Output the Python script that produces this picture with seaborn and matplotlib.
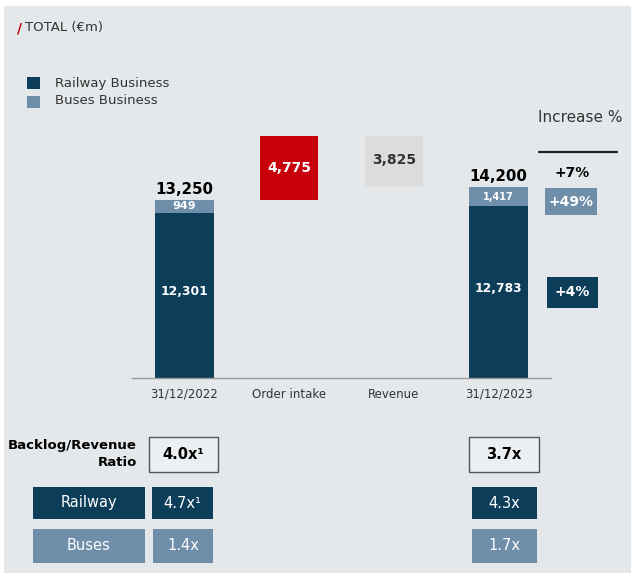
#!/usr/bin/env python3

import numpy as np
import pandas as pd
import matplotlib
matplotlib.use("Agg")
import matplotlib.pyplot as plt
from matplotlib.patches import Rectangle
import seaborn as sns

# chart data
categories = ["31/12/2022", "Order intake", "Revenue", "31/12/2023"]
railway = [12301, 0, 0, 12783]
buses = [949, 0, 0, 1417]
order_intake = 4775
revenue = 3825
increase_labels = ["+7%", "+49%", "+4%"]
ratio_total = ["4.0x\u00b9", "3.7x"]
ratio_railway = ["4.7x\u00b9", "4.3x"]
ratio_buses = ["1.4x", "1.7x"]

# colours
DARK = "#0c3e5a"
LIGHT = "#6f8ea9"
RED = "#c8000b"
GREY_BOX = "#dcdcdc"
PANEL = "#e4e8eb"
TXT = "#333333"

W, H = 635, 577
sns.set_theme(style="white")
plt.rcParams["font.family"] = ["DejaVu Sans"]

fig = plt.figure(figsize=(W / 100, H / 100), dpi=100, facecolor="white")

# background axes in pixel coordinates for panel, table and notes
bg = fig.add_axes([0, 0, 1, 1], zorder=0)
bg.set_xlim(0, W)
bg.set_ylim(H, 0)
bg.axis("off")
bg.add_patch(Rectangle((4, 6), 627, 567, facecolor=PANEL, edgecolor="none"))


def px_axes(left, right, top, bottom):
    return [left / W, 1 - bottom / H, (right - left) / W, (bottom - top) / H]


# main waterfall axes: baseline at y=378px, 0..22000
ymax = 22000
k = 178 / 13250
ax = fig.add_axes(px_axes(132, 551, 378 - ymax * k, 378), zorder=1)
ax.set_facecolor("none")

totals = [r + b for r, b in zip(railway, buses)]
start_total = totals[0]
move_heights = [0, order_intake, revenue, 0]
move_bottoms = [0, start_total, start_total + order_intake - revenue, 0]
move_colors = ["none", RED, GREY_BOX, "none"]

sns.barplot(x=categories, y=railway, color=DARK, width=0.56, errorbar=None,
            linewidth=0, saturation=1, ax=ax)
sns.barplot(x=categories, y=buses, bottom=railway, color=LIGHT, width=0.56,
            errorbar=None, linewidth=0, saturation=1, ax=ax)
sns.barplot(x=categories, y=move_heights, bottom=move_bottoms, color=RED,
            width=0.56, errorbar=None, linewidth=0, saturation=1, ax=ax)
for bar, c in zip(ax.containers[-1], move_colors):
    bar.set_facecolor(c)

ax.set_xlim(-0.5, 3.5)
ax.set_ylim(0, ymax)
ax.set_yticks([])
ax.set_ylabel("")
for s in ["top", "right", "left"]:
    ax.spines[s].set_visible(False)
ax.spines["bottom"].set_color("#9a9a9a")
ax.spines["bottom"].set_linewidth(1)
ax.tick_params(axis="x", length=0, pad=7, labelsize=8.5, labelcolor=TXT)

# value labels
for i in [0, 3]:
    ax.text(i, totals[i] + 250, f"{totals[i]:,}", ha="center", va="bottom",
            fontsize=10.8, fontweight="bold", color="black")
    ax.text(i, railway[i] + buses[i] / 2, f"{buses[i]:,}", ha="center",
            va="center", fontsize=8 if i == 0 else 7, fontweight="bold", color="white")
    ax.text(i, railway[i] / 2 + 300, f"{railway[i]:,}", ha="center", va="center",
            fontsize=8.8, fontweight="bold", color="white")
ax.text(1, move_bottoms[1] + order_intake / 2, f"{order_intake:,}", ha="center",
        va="center", fontsize=10, fontweight="bold", color="white")
ax.text(2, move_bottoms[2] + revenue / 2 + 100, f"{revenue:,}", ha="center",
        va="center", fontsize=10, fontweight="bold", color=TXT)

# title and legend
bg.text(17, 28, "/", color=RED, fontsize=10, fontweight="bold", ha="left", va="center")
bg.text(25, 28, "TOTAL (\u20acm)", color=TXT, fontsize=9.5, ha="left", va="center")
bg.add_patch(Rectangle((27, 77), 13, 12, facecolor=DARK, edgecolor="none"))
bg.add_patch(Rectangle((27, 96), 13, 12, facecolor=LIGHT, edgecolor="none"))
bg.text(55, 83, "Railway Business", color=TXT, fontsize=9.5, va="center")
bg.text(55, 101, "Buses Business", color=TXT, fontsize=9.5, va="center")

# increase column
bg.text(580, 117, "Increase %", color=TXT, fontsize=11, ha="center", va="center")
bg.plot([539, 617], [152, 152], color="#222222", lw=1.6)
bg.text(572, 173, increase_labels[0], color="black", fontsize=10,
        fontweight="bold", ha="center", va="center")
bg.add_patch(Rectangle((545, 188), 52, 27, facecolor=LIGHT, edgecolor="none"))
bg.text(571, 201.5, increase_labels[1], color="white", fontsize=10,
        fontweight="bold", ha="center", va="center")
bg.add_patch(Rectangle((547, 277), 51, 31, facecolor=DARK, edgecolor="none"))
bg.text(572.5, 292.5, increase_labels[2], color="white", fontsize=10,
        fontweight="bold", ha="center", va="center")

# backlog / revenue table
bg.text(137, 446, "Backlog/Revenue", color="black", fontsize=9.5,
        fontweight="bold", ha="right", va="center")
bg.text(137, 463, "Ratio", color="black", fontsize=9.5,
        fontweight="bold", ha="right", va="center")


def box(x0, x1, y0, y1, text, fc, tc, bold=False, ec="none", size=10):
    bg.add_patch(Rectangle((x0, y0), x1 - x0, y1 - y0, facecolor=fc,
                           edgecolor=ec, lw=1))
    bg.text((x0 + x1) / 2, (y0 + y1) / 2, text, color=tc, fontsize=size,
            fontweight="bold" if bold else "normal", ha="center", va="center")


box(149, 218, 437, 472, ratio_total[0], "#eceff1", "black", True, "#555555", 10.5)
box(469, 539, 437, 472, ratio_total[1], "#eceff1", "black", True, "#555555", 10.5)
box(33, 145, 487, 519, "Railway", DARK, "white", size=10.5)
box(152, 213, 487, 519, ratio_railway[0], DARK, "white", size=10.5)
box(472, 537, 487, 519, ratio_railway[1], DARK, "white", size=10.5)
box(33, 145, 529, 563, "Buses", LIGHT, "white", size=10.5)
box(153, 213, 529, 563, ratio_buses[0], LIGHT, "white", size=10.5)
box(472, 537, 529, 563, ratio_buses[1], LIGHT, "white", size=10.5)

fig.savefig("out.png", dpi=100, facecolor="white")
